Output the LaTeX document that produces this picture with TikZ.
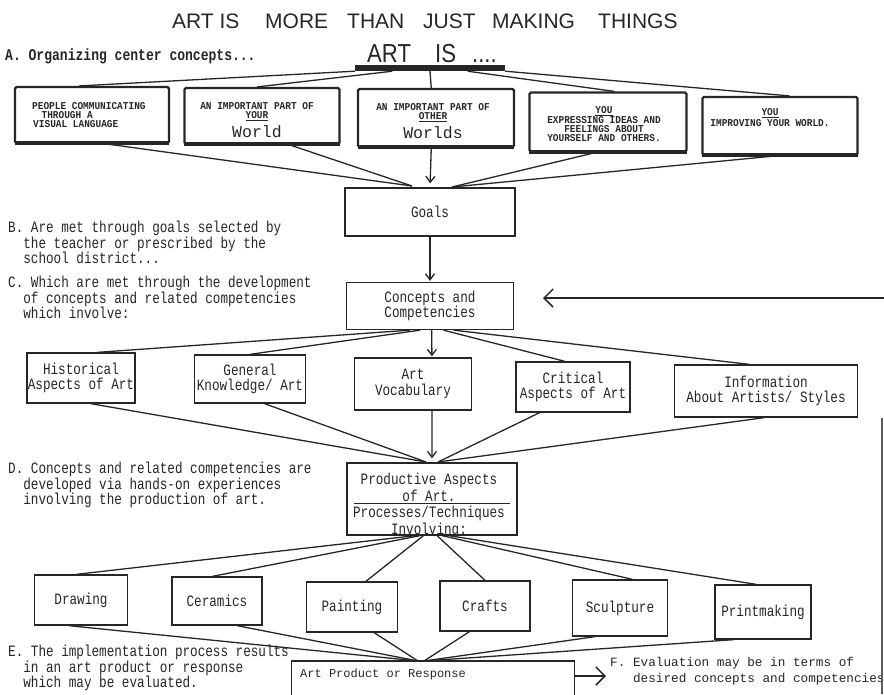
\documentclass[tikz,border=0pt]{standalone}
\usepackage{fontspec}
\setmainfont{Liberation Serif}
\newfontfamily\titlef{Liberation Sans}
\newfontfamily\titlen[FakeStretch=0.85]{Liberation Sans}
\newfontfamily\tw[FakeStretch=0.8]{Liberation Mono}
\newfontfamily\twb[FakeStretch=0.9]{Liberation Mono}
\newfontfamily\twf{Liberation Mono}
\usetikzlibrary{arrows.meta,calc}
\definecolor{ink}{HTML}{262626}
\tikzset{
  twtext/.style={font=\tw\fontsize{15.8}{15.6}\selectfont, text=ink},
  para/.style={twtext, anchor=north west, align=left, inner sep=0},
  box/.style={draw=ink, line width=1.3, inner sep=1, align=center, twtext},
  topbox/.style={draw=ink, line width=2.2, rounded corners=1.5, inner sep=0},
  toptext/.style={inner sep=0, align=center, font=\twb\bfseries\fontsize{10.5}{9.3}\selectfont, text=ink},
  conn/.style={draw=ink, line width=1.3},
  arr/.style={conn, -{Straight Barb[length=6,width=9,line width=1.3]}},
  bigarr/.style={conn, -{Straight Barb[length=9,width=18,line width=1.5]}},
  shadowline/.style={draw=ink, line width=4},
}
\begin{document}
\begin{tikzpicture}[x=1pt,y=-1pt]
\useasboundingbox (0,0) rectangle (884,694);

% titles
\node[font=\titlef\fontsize{21}{21}\selectfont, text=ink, anchor=base west, inner sep=0] (title) at (172,28)
  {\makebox[93pt][l]{ART IS}\makebox[82pt][l]{MORE}\makebox[76pt][l]{THAN}\makebox[69pt][l]{JUST}\makebox[106pt][l]{MAKING}THINGS};
\node[font=\titlen\fontsize{26}{26}\selectfont, text=ink, anchor=base west, inner sep=0] (artis) at (367,62)
  {\makebox[68pt][l]{ART}\makebox[37pt][l]{IS}....};
\node[fill=ink, minimum width=150, minimum height=6, inner sep=0] (bar) at (430,68) {};
\node[font=\tw\bfseries\fontsize{16.3}{16}\selectfont, text=ink, anchor=base west, inner sep=0] (la) at (5,60) {A. Organizing center concepts...};

% top boxes
\node[topbox, minimum width=154, minimum height=56] (b1) at (92,115) {};
\node[topbox, minimum width=155, minimum height=56] (b2) at (262,116) {};
\node[topbox, minimum width=156, minimum height=58] (b3) at (436,118) {};
\node[topbox, minimum width=157, minimum height=59] (b4) at (608,122) {};
\node[topbox, minimum width=155, minimum height=58] (b5) at (780,126) {};
\foreach \b in {b1,b2,b3,b4,b5}{
  \draw[shadowline] ($(\b.south west)+(1,-1)$) -- ($(\b.south east)+(-1,-1)$);
}
\node[toptext, align=left, anchor=north west] (b1t) at (32,102)
  {PEOPLE COMMUNICATING\\\hspace*{0.9em}THROUGH A\\\hspace*{0.1em}VISUAL LANGUAGE};
\node[toptext, anchor=north] (b2t) at (257,102)
  {AN IMPORTANT PART OF\\\underline{YOUR}\\[4pt]{\twf\mdseries\fontsize{16.5}{16}\selectfont World}};
\node[toptext, anchor=north] (b3t) at (433,103)
  {AN IMPORTANT PART OF\\\underline{OTHER}\\[4pt]{\twf\mdseries\fontsize{16.5}{16}\selectfont Worlds}};
\node[toptext, anchor=north, font=\twb\bfseries\fontsize{10.5}{8.8}\selectfont] (b4t) at (604,106)
  {\underline{YOU}\\[0.5pt]EXPRESSING IDEAS AND\\FEELINGS ABOUT\\YOURSELF AND OTHERS.};
\node[toptext, anchor=north] (b5t) at (770,108)
  {\underline{YOU}\\[2pt]IMPROVING YOUR WORLD.};

% bar to top boxes
\draw[conn] ($(bar.south west)!0.0!(bar.south east)$) -- ($(b1.north west)!0.42!(b1.north east)$);
\draw[conn] ($(bar.south west)!0.25!(bar.south east)$) -- ($(b2.north west)!0.47!(b2.north east)$);
\draw[conn] ($(bar.south west)!0.5!(bar.south east)$) -- ($(b3.north west)!0.47!(b3.north east)$);
\draw[conn] ($(bar.south west)!0.75!(bar.south east)$) -- ($(b4.north west)!0.54!(b4.north east)$);
\draw[conn] ($(bar.south west)!1.0!(bar.south east)$) -- ($(b5.north west)!0.56!(b5.north east)$);

% Goals and Concepts
\node[box, minimum width=170, minimum height=48] (goals) at (430,212) {Goals};
\node[box, minimum width=167, minimum height=47] (concepts) at (430,306) {Concepts and\\Competencies};

\coordinate (gA) at (412,186);
\coordinate (gB) at (452,187);
\draw[conn] ($(b1.south west)!0.6!(b1.south east)$) -- (gA);
\draw[conn] ($(b2.south west)!0.68!(b2.south east)$) -- (gA);
\draw[arr, shorten >=4] ($(b3.south west)!0.47!(b3.south east)$) -- (goals.north);
\draw[conn] ($(b4.south west)!0.42!(b4.south east)$) -- (gB);
\draw[conn] ($(b5.south west)!0.46!(b5.south east)$) -- (gB);

\draw[arr, shorten >=1] (goals.south) -- (concepts.north);
\coordinate (fbstart) at (884,298);
\coordinate (fbend) at (543,298);
\draw[bigarr] (fbstart) -- (fbend);

% left texts
\node[para] (tB) at (8,221) {B. Are met through goals selected by\\\phantom{B.}the teacher or prescribed by the\\\phantom{B.}school district...};
\node[para] (tC) at (8,276) {C. Which are met through the development\\\phantom{C.}of concepts and related competencies\\\phantom{C.}which involve:};
\node[para] (tD) at (8,462) {D. Concepts and related competencies are\\\phantom{D.}developed via hands-on experiences\\\phantom{D.}involving the production of art.};
\node[para] (tE) at (8,645) {E. The implementation process results\\\phantom{E.}in an art product or response\\\phantom{E.}which may be evaluated.};
\node[anchor=north west, align=left, inner sep=0, font=\twf\fontsize{12.7}{16.5}\selectfont, text=ink] (tF) at (610,657)
  {F. Evaluation may be in terms of\\\phantom{F. }desired concepts and competencies};

% second row
\node[box, minimum width=93, minimum height=50] (h1) at (81,378) {Historical\\Aspects of Art};
\node[box, minimum width=111, minimum height=48] (h2) at (250,379) {General\\Knowledge/ Art};
\node[box, minimum width=117, minimum height=52] (h3) at (413,384) {Art\\Vocabulary};
\node[box, minimum width=114, minimum height=50] (h4) at (573,387) {Critical\\Aspects of Art};
\node[box, minimum width=183, minimum height=52] (h5) at (766,391) {Information\\About Artists/ Styles};

\draw[conn] ($(concepts.south west)!0.38!(concepts.south east)$) -- ($(h1.north west)!0.65!(h1.north east)$);
\draw[conn] ($(concepts.south west)!0.44!(concepts.south east)$) -- ($(h2.north west)!0.5!(h2.north east)$);
\draw[arr, shorten >=1] ($(concepts.south west)!0.51!(concepts.south east)$) -- ($(h3.north west)!0.66!(h3.north east)$);
\draw[conn] ($(concepts.south west)!0.58!(concepts.south east)$) -- ($(h4.north west)!0.43!(h4.north east)$);
\draw[conn] ($(concepts.south west)!0.64!(concepts.south east)$) -- ($(h5.north west)!0.41!(h5.north east)$);

% productive
\node[draw=ink, line width=1.3, inner sep=0, minimum width=170, minimum height=72] (prodasp) at (432,499) {};
\node[twtext, align=center, inner sep=0, anchor=north, font=\tw\fontsize{15.8}{16.6}\selectfont] (prodaspt) at (429,473)
  {Productive Aspects\\of Art.\\Processes/Techniques\\Involving:};
\draw[draw=ink, line width=1] ($(prodasp.west)+(8,4)$) -- ($(prodasp.east)+(-8,4)$);

\coordinate (pA) at (426,462);
\coordinate (pB) at (438,462);
\draw[conn] ($(h1.south west)!0.59!(h1.south east)$) -- (pA);
\draw[conn] ($(h2.south west)!0.63!(h2.south east)$) -- (pA);
\draw[arr, shorten >=4] ($(h3.south west)!0.66!(h3.south east)$) -- ($(prodasp.north west)!0.5!(prodasp.north east)$);
\draw[conn] ($(h4.south west)!0.21!(h4.south east)$) -- (pB);
\draw[conn] ($(h5.south west)!0.49!(h5.south east)$) -- (pB);

% third row
\node[box, minimum width=93, minimum height=50] (d1) at (81,600) {Drawing};
\node[box, minimum width=90, minimum height=48] (d2) at (217,601) {Ceramics};
\node[box, minimum width=91, minimum height=50] (d3) at (352,607) {Painting};
\node[box, minimum width=90, minimum height=50] (d4) at (485,606) {Crafts};
\node[box, minimum width=95, minimum height=56] (d5) at (620,608) {Sculpture};
\node[box, minimum width=96, minimum height=54] (d6) at (763,612) {Printmaking};

\draw[conn] ($(prodasp.south west)!0.40!(prodasp.south east)$) -- ($(d1.north west)!0.45!(d1.north east)$);
\draw[conn] ($(prodasp.south west)!0.43!(prodasp.south east)$) -- ($(d2.north west)!0.45!(d2.north east)$);
\draw[conn] ($(prodasp.south west)!0.45!(prodasp.south east)$) -- ($(d3.north west)!0.65!(d3.north east)$);
\draw[conn] ($(prodasp.south west)!0.53!(prodasp.south east)$) -- ($(d4.north west)!0.5!(d4.north east)$);
\draw[conn] ($(prodasp.south west)!0.56!(prodasp.south east)$) -- ($(d5.north west)!0.63!(d5.north east)$);
\draw[conn] ($(prodasp.south west)!0.60!(prodasp.south east)$) -- ($(d6.north west)!0.43!(d6.north east)$);

% art product
\node[draw=ink, line width=1.3, minimum width=283, minimum height=38, inner sep=0] (artprod) at (433,680) {};
\node[anchor=base west, inner sep=0, font=\twf\fontsize{12}{12}\selectfont, text=ink] (artprodtext) at (300,677) {Art Product or Response};

\coordinate (aA) at (418,661);
\coordinate (aB) at (424,661);
\draw[conn] ($(d1.south west)!0.37!(d1.south east)$) -- (aA);
\draw[conn] ($(d2.south west)!0.72!(d2.south east)$) -- (aA);
\draw[conn] ($(d3.south west)!0.74!(d3.south east)$) -- (aA);
\draw[conn] ($(d4.south west)!0.33!(d4.south east)$) -- (aB);
\draw[conn] ($(d5.south west)!0.24!(d5.south east)$) -- (aB);
\draw[conn] ($(d6.south west)!0.20!(d6.south east)$) -- (aB);

\coordinate (evend) at (606,676);
\draw[bigarr] (artprod.east |- evend) -- (evend);

% right edge line
\coordinate (edgeA) at (882,418);
\coordinate (edgeB) at (882,694);
\draw[draw=ink!75, line width=1.5] (edgeA) -- (edgeB);
\end{tikzpicture}
\end{document}
